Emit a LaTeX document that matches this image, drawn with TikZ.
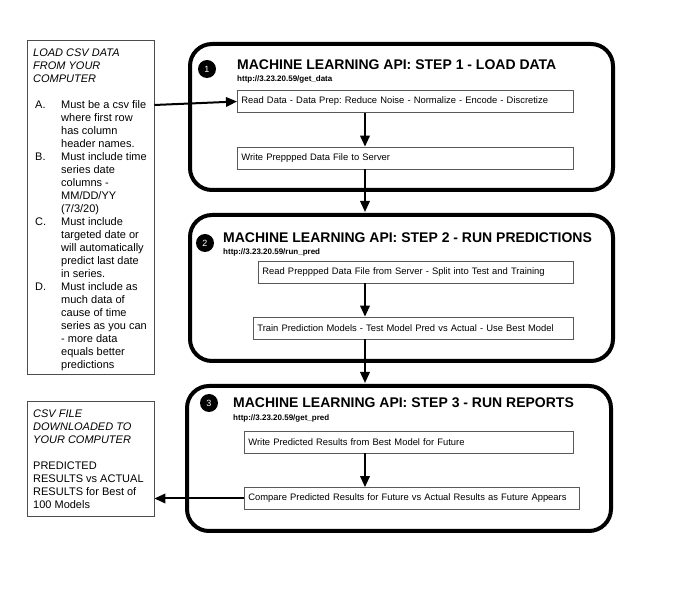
\documentclass[tikz,border=0pt]{standalone}
\usepackage{fontspec}
\setmainfont{Liberation Sans}
\usetikzlibrary{arrows.meta,calc,positioning}

\tikzset{
	stepbox/.style={draw, line width=4pt, rounded corners=22pt, inner sep=0pt},
	taskbox/.style={draw=black!65, line width=0.8pt, inner ysep=0pt, inner xsep=4pt,
		minimum height=22pt, text width=#1, align=left, font=\fontsize{9.4}{11}\selectfont},
	notebox/.style={draw=black!70, line width=0.8pt, inner sep=0pt},
	notetext/.style={anchor=base west, inner sep=0pt, font=\fontsize{11}{13}\selectfont},
	stepnum/.style={circle, fill=black, text=white, minimum size=18pt, inner sep=0pt,
		font=\fontsize{9}{9}\selectfont},
	steptitle/.style={anchor=base west, inner sep=0pt, font=\fontsize{14}{14}\selectfont\bfseries},
	stepurl/.style={anchor=base west, inner sep=0pt, font=\fontsize{8}{8}\selectfont\bfseries},
	flow/.style={line width=2pt, -{Triangle[length=11pt,width=9.5pt]}}
}

\begin{document}
\frenchspacing
\begin{tikzpicture}[x=1pt, y=-1pt]
		\useasboundingbox (0,0) rectangle (681,601);
		
		% input and output notes
		\node[notebox, minimum width=127pt, minimum height=334pt] (csvin) at (90.5,207) {};
		\node[notetext] (csvintxt) at (33,57) {%
			\begin{tabular}[t]{@{}l@{}}
				\textit{LOAD CSV DATA}\\
				\textit{FROM YOUR}\\
				\textit{COMPUTER}\\
				\\
			\end{tabular}};
		\node[notetext] (csvlist) at (35,109) {%
			\begin{tabular}[t]{@{}p{26pt}@{}l@{}}
				A. & Must be a csv file\\
				   & where first row\\
				   & has column\\
				   & header names.\\
				B. & Must include time\\
				   & series date\\
				   & columns -\\
				   & MM/DD/YY\\
				   & (7/3/20)\\
				C. & Must include\\
				   & targeted date or\\
				   & will automatically\\
				   & predict last date\\
				   & in series.\\
				D. & Must include as\\
				   & much data of\\
				   & cause of time\\
				   & series as you can\\
				   & - more data\\
				   & equals better\\
				   & predictions
			\end{tabular}};
		
		\node[notebox, minimum width=127pt, minimum height=115pt] (csvout) at (90.5,458.5) {};
		\node[notetext] (csvouttxt) at (33,418) {%
			\begin{tabular}[t]{@{}l@{}}
				\textit{CSV FILE}\\
				\textit{DOWNLOADED TO}\\
				\textit{YOUR COMPUTER}\\
				\\
				PREDICTED\\
				RESULTS vs ACTUAL\\
				RESULTS for Best of\\
				100 Models
			\end{tabular}};
		
		% the three API steps
		\node[stepbox, minimum width=423pt, minimum height=146pt] (step1) at (401.5,117) {};
		\node[stepbox, minimum width=423pt, minimum height=146pt] (step2) at (401.5,288) {};
		\node[stepbox, minimum width=424pt, minimum height=145pt] (step3) at (399,458.5) {};
		
		\node[stepnum] (num1) at (207,69) {1};
		\node[steptitle] (title1) at (237,70) {MACHINE LEARNING API: STEP 1 - LOAD DATA};
		\node[stepurl] (url1) at (237,82) {http://3.23.20.59/get\_data};
		
		\node[stepnum] (num2) at (205,243) {2};
		\node[steptitle] (title2) at (223,243) {MACHINE LEARNING API: STEP 2 - RUN PREDICTIONS};
		\node[stepurl] (url2) at (223,255) {http://3.23.20.59/run\_pred};
		
		\node[stepnum] (num3) at (209,403) {3};
		\node[steptitle] (title3) at (233,408) {MACHINE LEARNING API: STEP 3 - RUN REPORTS};
		\node[stepurl] (url3) at (233,421) {http://3.23.20.59/get\_pred};
		
		\node[taskbox=328pt, anchor=west] (read) at (237,101.5)
			{Read Data - Data Prep: Reduce Noise - Normalize - Encode - Discretize};
		\node[taskbox=328pt, anchor=west] (write) at (237,158)
			{Write Preppped Data File to Server};
		\node[taskbox=307pt, anchor=west] (split) at (258,272)
			{Read Preppped Data File from Server - Split into Test and Training};
		\node[taskbox=312pt, anchor=west] (train) at (253,328)
			{Train Prediction Models - Test Model Pred vs Actual - Use Best Model};
		\node[taskbox=321pt, anchor=west] (future) at (244,442)
			{Write Predicted Results from Best Model for Future};
		\node[taskbox=327pt, anchor=west] (compare) at (244,498.5)
			{Compare Predicted Results for Future vs Actual Results as Future Appears};
		
		% connectors
		\coordinate (ax) at (365,0);
		\draw[flow] ($(csvin.east |- read.west)+(0,3.5)$) -- (read.west);
		\draw[flow] (read.south -| ax) -- (write.north -| ax);
		\draw[flow] (write.south -| ax) -- ([yshift=1pt]step2.north -| ax);
		\draw[flow] (split.south -| ax) -- (train.north -| ax);
		\draw[flow] (train.south -| ax) -- ([yshift=1pt]step3.north -| ax);
		\draw[flow] (future.south -| ax) -- (compare.north -| ax);
		\draw[flow] (compare.west) -- (compare.west -| csvout.east);
	\end{tikzpicture}
\end{document}
